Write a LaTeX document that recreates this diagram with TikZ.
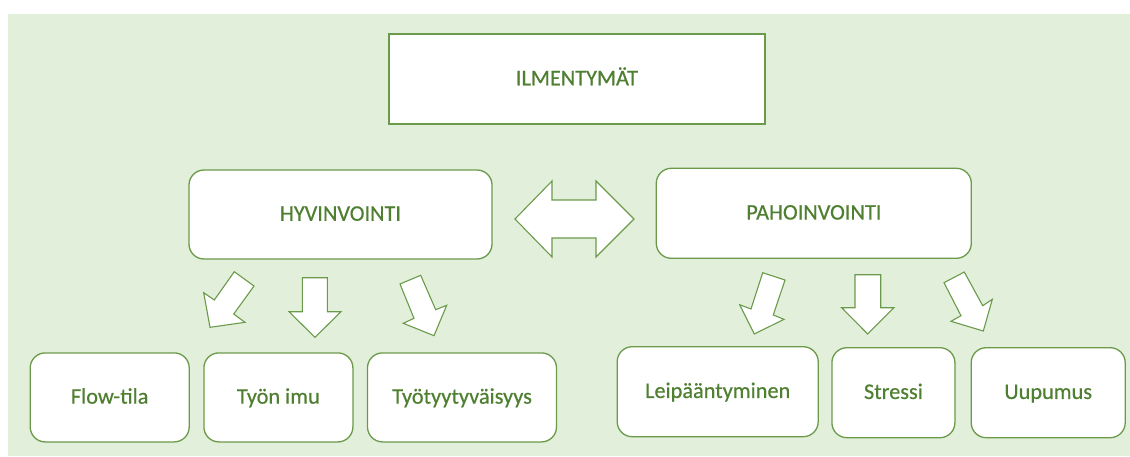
\documentclass[tikz,border=0pt]{standalone}
\usepackage{fontspec}
\setmainfont{Carlito}[FakeBold=0.5]
\definecolor{bgg}{HTML}{E2EFDA}
\definecolor{lineg}{HTML}{6A9A4A}
\definecolor{textg}{HTML}{4F7F30}
\tikzset{
  box/.style={draw=lineg, line width=1.3pt, fill=white, rounded corners=15pt,
    inner sep=0pt, text=textg, font=\fontsize{22.3}{26}\selectfont,
    text height=1.25em, text depth=0pt},
  topbox/.style={box, rounded corners=0pt, line width=2pt},
  blockarrow/.style={draw=lineg, line width=1.1pt, fill=white, line join=miter}
}
\begin{document}
\begin{tikzpicture}[x=1pt,y=-1pt]
\useasboundingbox (0,0) rectangle (1130,456);
\fill[white] (0,0) rectangle (1130,456);
\fill[bgg] (8,14) rectangle (1130,456);

\node[topbox, minimum width=376pt, minimum height=90pt] (ilm) at (577,79) {ILMENTYMÄT};

\node[box, minimum width=303pt, minimum height=89pt] (hyv) at (340.5,214.5) {HYVINVOINTI};
\node[box, minimum width=315pt, minimum height=90pt] (pah) at (813.8,213.3) {PAHOINVOINTI};

\node[box, minimum width=159pt, minimum height=89pt] (flow) at (109.7,397.4) {Flow-tila};
\node[box, minimum width=149pt, minimum height=89pt] (imu) at (278.4,397.4) {Työn imu};
\node[box, minimum width=189pt, minimum height=89pt] (tyyt) at (462,397.4) {Työtyytyväisyys};

\node[box, minimum width=201pt, minimum height=90pt] (leip) at (717.7,391.7) {Leipääntyminen};
\node[box, minimum width=123pt, minimum height=90pt] (stress) at (893.4,392.7) {Stressi};
\node[box, minimum width=154pt, minimum height=90pt] (uup) at (1048.2,392.7) {Uupumus};

% double arrow between HYVINVOINTI and PAHOINVOINTI
\draw[blockarrow] (515,219) -- (552,181) -- (552,200) -- (596,200) -- (596,181)
  -- (634,219) -- (596,257) -- (596,238) -- (552,238) -- (552,257) -- cycle;

% arrows under HYVINVOINTI
\draw[blockarrow] (234.3,271.7) -- (254,286) -- (233.7,314) -- (245,322.3) -- (210,327.3)
  -- (203.7,292.7) -- (214.3,300) -- cycle;
\draw[blockarrow] (302.3,277.7) -- (327.3,277.7) -- (327.3,311.7) -- (341,311.7) -- (315,337.3)
  -- (289,311.7) -- (302.3,311.7) -- cycle;
\draw[blockarrow] (400,284) -- (420.7,275.3) -- (435.7,309.7) -- (446.7,305.3) -- (434,335.7)
  -- (403.3,323.3) -- (414,318.3) -- cycle;

% arrows under PAHOINVOINTI
\draw[blockarrow] (762.7,272.7) -- (785,280) -- (773.3,315) -- (784,319.3) -- (754.3,334)
  -- (739.7,304.7) -- (751,309) -- cycle;
\draw[blockarrow] (855,274.7) -- (880.7,274.7) -- (880.7,307.7) -- (894,307.7) -- (867.7,334)
  -- (841.7,307.7) -- (855,307.7) -- cycle;
\draw[blockarrow] (944,282.7) -- (964.3,272) -- (982.7,305.7) -- (992.3,299.3) -- (983.3,331)
  -- (951,321.3) -- (961,315.7) -- cycle;
\end{tikzpicture}
\end{document}
